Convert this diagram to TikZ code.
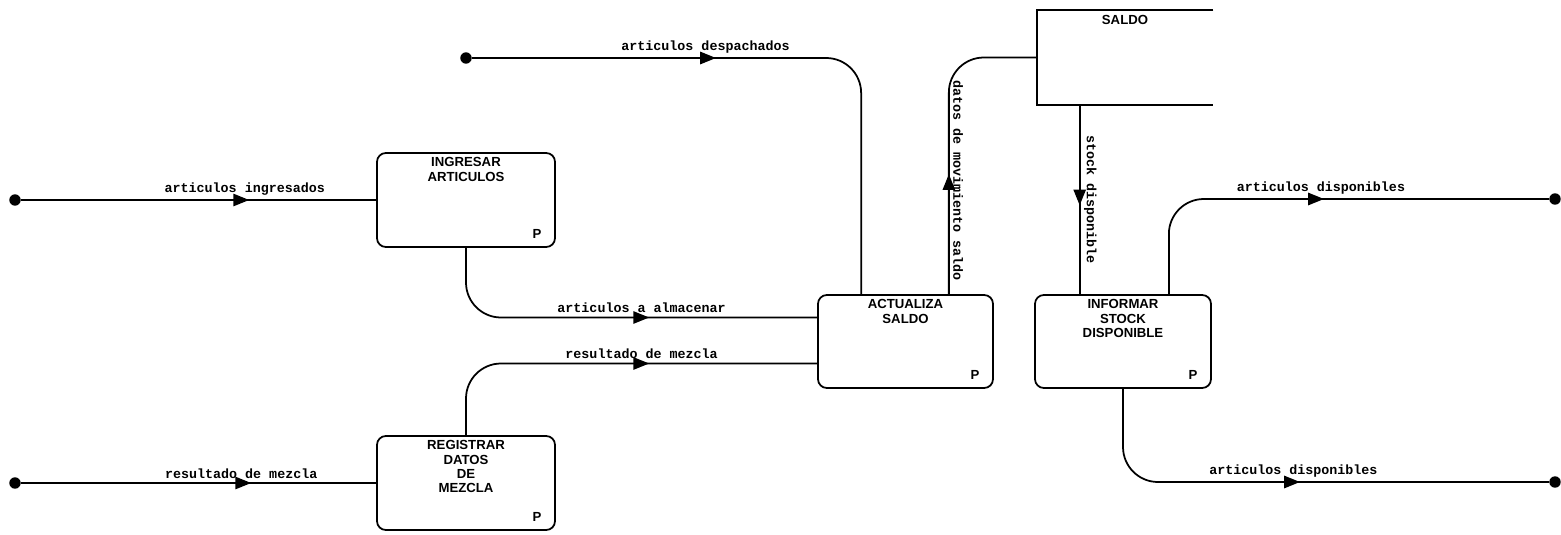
\documentclass[tikz,border=0pt]{standalone}
\usepackage{fontspec}
\setmainfont{Liberation Sans}
\newfontfamily\flowfont{Liberation Mono}
\usetikzlibrary{arrows.meta, calc, decorations.markings}
\tikzset{
  procbox/.style={
    draw, rounded corners=5pt, line width=1pt,
    minimum width=3.56cm, minimum height=1.88cm,
    inner sep=0pt,
  },
  boxtitle/.style={
    anchor=north, align=center, inner sep=3pt,
    font=\fontsize{7.5}{8.1}\selectfont\bfseries,
  },
  ptag/.style={
    anchor=south east, xshift=-7pt, yshift=4pt, inner sep=1pt,
    font=\fontsize{7.5}{8}\selectfont\bfseries,
  },
  endpt/.style={circle, fill=black, inner sep=0pt, minimum size=6.5pt},
  flow/.style={
    line width=1pt, rounded corners=0.7cm,
    postaction={decorate, decoration={markings,
      mark=at position #1 with {\arrow{Triangle[length=9pt, width=7pt]}}}},
  },
  flowlbl/.style={above, inner sep=2pt,
                  font=\flowfont\bfseries\fontsize{7.6}{8}\selectfont},
}

\begin{document}
\begin{tikzpicture}[x=0.02cm, y=-0.02cm]
\useasboundingbox (0,0) rectangle (1561,534);

%% processes
\node[procbox, label={[boxtitle]north:{INGRESAR\\ARTICULOS}},
      label={[ptag]south east:P}] (ing) at (466,200) {};
\node[procbox, label={[boxtitle]north:{REGISTRAR\\DATOS\\DE\\MEZCLA}},
      label={[ptag]south east:P}] (reg) at (466,483) {};
\node[procbox, minimum width=3.5cm, minimum height=1.86cm,
      label={[boxtitle]north:{ACTUALIZA\\SALDO}},
      label={[ptag]south east:P}] (act) at (905.5,341.5) {};
\node[procbox, minimum width=3.52cm, minimum height=1.86cm,
      label={[boxtitle]north:{INFORMAR\\STOCK\\DISPONIBLE}},
      label={[ptag]south east:P}] (inf) at (1123,341.5) {};

%% data store
\node[minimum width=3.52cm, minimum height=1.9cm, inner sep=0pt,
      label={[boxtitle]north:SALDO}] (saldo) at (1125,57.5) {};
\draw[line width=1pt]
  (saldo.north east) -- (saldo.north west) -- (saldo.south west) -- (saldo.south east);

%% external ends
\node[endpt] (srcing)   at (15,200)   {};
\node[endpt] (srcdesp)  at (466,58)   {};
\node[endpt] (srcmez)   at (15,483)   {};
\node[endpt] (snkdisp1) at (1555,199) {};
\node[endpt] (snkdisp2) at (1555,482) {};

%% points on the box borders
\coordinate (actin1)  at ($(act.west)+(0,-24)$);
\coordinate (actin2)  at ($(act.west)+(0,22)$);
\coordinate (despend) at ($(act.north west)+(44,0)$);
\coordinate (datosst) at ($(act.north east)+(-45,0)$);
\coordinate (stockst) at ($(saldo.south west)+(43,0)$);
\coordinate (dispst)  at ($(inf.north east)+(-43,0)$);

%% flows
\draw[flow=-2.54cm] (srcing) --
  node[flowlbl, pos=0.63] {articulos ingresados} (ing.west);
\draw[flow=4.88cm] (srcdesp) -|
  node[flowlbl, pos=0.3] {articulos despachados} (despend);
\draw[flow=-3.36cm] (ing.south) |-
  node[flowlbl, pos=0.75] {articulos a almacenar} (actin1);
\draw[flow=-3.36cm] (reg.north) |-
  node[flowlbl, pos=0.75] {resultado de mezcla} (actin2);
\draw[flow=-2.5cm] (srcmez) --
  node[flowlbl, pos=0.62] {resultado de mezcla} (reg.west);
\draw[flow=2.4cm] (datosst) |-
  node[flowlbl, rotate=-90, pos=0.24] {datos de movimiento saldo} (saldo.west);
\draw[flow=2cm] (stockst) --
  node[flowlbl, rotate=-90, pos=0.5] {stock disponible} (stockst |- inf.north);
\draw[flow=-4.5cm] (dispst) |-
  node[flowlbl, pos=0.7] {articulos disponibles} (snkdisp1);
\draw[flow=-4.98cm] (inf.south) |-
  node[flowlbl, pos=0.7] {articulos disponibles} (snkdisp2);

\end{tikzpicture}
\end{document}
